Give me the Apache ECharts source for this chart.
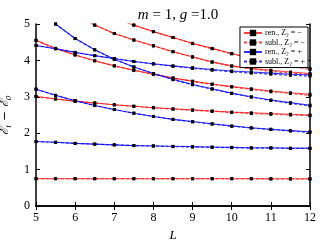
<!DOCTYPE html>
<html><head><meta charset="utf-8">
<script src="https://cdn.jsdelivr.net/npm/echarts@6/dist/echarts.min.js"></script>
<style>html,body{margin:0;padding:0;background:#fff}#c{width:320px;height:240px}</style>
</head><body><div id="c"></div>
<script>
const L = [5,5.5,6,6.5,7,7.5,8,8.5,9,9.5,10,10.5,11,11.5,12];
const xTicks = [5,6,7,8,9,10,11,12];
const yTicks = [0,1,2,3,4,5];
// red (Z2 = -) curves
const red0Ren  = [0.75,0.75,0.75,0.75,0.75,0.75,0.75,0.75,0.75,0.75,0.75,0.75,0.75,0.75,0.75];
const red0Sub  = [0.75,0.75,0.75,0.75,0.75,0.75,0.75,0.75,0.75,0.75,0.75,0.75,0.74,0.74,0.74];
const red2Ren  = [3.01,2.94,2.88,2.83,2.78,2.74,2.70,2.67,2.64,2.61,2.58,2.56,2.54,2.52,2.50];
const red2Sub  = [3.01,2.94,2.88,2.83,2.78,2.74,2.70,2.66,2.63,2.60,2.57,2.54,2.52,2.50,2.48];
const red3Ren  = [4.55,4.33,4.15,3.99,3.85,3.73,3.62,3.52,3.43,3.35,3.28,3.22,3.16,3.11,3.07];
const red3Sub  = [4.55,4.33,4.15,3.99,3.85,3.73,3.62,3.51,3.42,3.34,3.27,3.20,3.14,3.09,3.04];
const red4Ren  = [5.95,5.57,5.25,4.97,4.74,4.56,4.40,4.24,4.10,3.96,3.85,3.78,3.73,3.68,3.64];
const red4Sub  = [5.95,5.57,5.25,4.97,4.74,4.56,4.40,4.24,4.09,3.95,3.84,3.76,3.70,3.65,3.61];
const red5Ren  = [6.20,5.92,5.65,5.40,5.17,4.97,4.79,4.63,4.47,4.33,4.19,4.07,3.96,3.86,3.78];
const red5Sub  = [6.20,5.92,5.65,5.40,5.17,4.97,4.79,4.63,4.46,4.32,4.18,4.05,3.94,3.84,3.75];
// blue (Z2 = +) curves
const blue1Ren = [1.77,1.75,1.72,1.70,1.68,1.66,1.65,1.64,1.63,1.62,1.61,1.60,1.60,1.59,1.59];
const blue1Sub = [1.77,1.75,1.72,1.70,1.68,1.66,1.65,1.63,1.62,1.61,1.60,1.59,1.59,1.58,1.58];
const blue2Ren = [3.21,3.04,2.89,2.76,2.65,2.55,2.46,2.38,2.32,2.26,2.20,2.15,2.11,2.07,2.04];
const blue2Sub = [3.21,3.04,2.89,2.76,2.65,2.55,2.46,2.38,2.31,2.25,2.19,2.14,2.10,2.06,2.02];
const blue3Ren = [4.41,4.32,4.22,4.13,4.05,3.97,3.91,3.85,3.80,3.75,3.71,3.68,3.65,3.62,3.60];
const blue3Sub = [4.41,4.32,4.22,4.13,4.05,3.97,3.90,3.84,3.78,3.73,3.69,3.65,3.62,3.59,3.57];
const blue4Ren = [5.45,5.00,4.60,4.29,4.03,3.82,3.64,3.48,3.34,3.22,3.10,3.00,2.91,2.84,2.77];
const blue4Sub = [5.45,5.00,4.60,4.29,4.03,3.82,3.64,3.47,3.33,3.21,3.09,2.99,2.90,2.82,2.75];

const NAMES = ['ren., Z\u2082 = \u2212','subl., Z\u2082 = \u2212','ren., Z\u2082 = +','subl., Z\u2082 = +'];
const RED = 'rgba(255,0,0,0.75)', BLUE = 'rgba(0,0,255,0.8)';

function mk(vals, name, color, dashed){
  return {
    type:'line', name:name, data:L.map((x,i)=>[x,vals[i]]),
    symbol:'rect', symbolSize:3, showSymbol:true,
    itemStyle:{color:'#000'},
    lineStyle:{color:color, width:1.1, type: dashed?[3,2]:'solid'},
    clip:true, silent:true, animation:false
  };
}
const series = [];
[[red0Ren,red0Sub],[red2Ren,red2Sub],[red3Ren,red3Sub],[red4Ren,red4Sub],[red5Ren,red5Sub]].forEach(p=>{
  series.push(mk(p[0],NAMES[0],RED,false));
  series.push(mk(p[1],NAMES[1],RED,true));
});
[[blue1Ren,blue1Sub],[blue2Ren,blue2Sub],[blue3Ren,blue3Sub],[blue4Ren,blue4Sub]].forEach(p=>{
  series.push(mk(p[0],NAMES[2],BLUE,false));
  series.push(mk(p[1],NAMES[3],BLUE,true));
});
const SERIF = 'Liberation Serif';
const axisCommon = {
  axisLine:{show:true, lineStyle:{color:'#000', width:1.5}},
  axisTick:{show:true, inside:true, length:4, lineStyle:{color:'#000', width:1}},
  splitLine:{show:false}
};
const chart = echarts.init(document.getElementById('c'), null, {renderer:'canvas'});
chart.setOption({
  animation:false,
  backgroundColor:'#fff',
  title:{
    text:'{i|m} = 1, {i|g} =1.0', left:173, textAlign:'center', top:3,
    textStyle:{fontFamily:SERIF, fontSize:15, fontWeight:'normal', color:'#000',
      rich:{i:{fontFamily:SERIF, fontStyle:'italic', fontSize:15, color:'#000'}}}
  },
  legend:{
    data:NAMES, orient:'vertical', right:12, top:27,
    backgroundColor:'#fff', borderColor:'#000', borderWidth:1, borderRadius:0,
    padding:[2,3,2,3], itemGap:1.5, itemWidth:18, itemHeight:8,
    textStyle:{fontFamily:SERIF, fontSize:8, color:'#000', padding:[0,0,0,-2]},
    selectedMode:false, z:10
  },
  grid:{left:36, right:10, top:24, bottom:34, containLabel:false, outerBoundsMode:'none'},
  xAxis:[
    Object.assign({type:'value', min:5, max:12, interval:1, position:'bottom',
      name:'L', nameLocation:'middle', nameGap:17,
      nameTextStyle:{fontFamily:SERIF, fontStyle:'italic', fontSize:13, color:'#000'},
      axisLabel:{fontFamily:SERIF, fontSize:12, color:'#000', margin:6,
        formatter:v=>xTicks.includes(v)?String(v):''}}, axisCommon),
    Object.assign({type:'value', min:5, max:12, interval:1, position:'top', axisLabel:{show:false}}, axisCommon)
  ],
  yAxis:[
    Object.assign({type:'value', min:0, max:5, interval:1, position:'left',
      name:'{e|\u2130}{s|i}{e| \u2212 \u2130}{s|0}', nameLocation:'middle', nameGap:16,
      nameTextStyle:{fontFamily:'DejaVu Serif', fontSize:12, color:'#000',
        rich:{e:{fontFamily:'DejaVu Serif', fontStyle:'italic', fontSize:12, lineHeight:16, color:'#000'},
              s:{fontFamily:'DejaVu Serif', fontStyle:'italic', fontSize:8, lineHeight:16, verticalAlign:'bottom', color:'#000'}}},
      axisLabel:{fontFamily:SERIF, fontSize:12, color:'#000', margin:6,
        formatter:v=>yTicks.includes(v)?String(v):''}}, axisCommon),
    Object.assign({type:'value', min:0, max:5, interval:1, position:'right', axisLabel:{show:false}}, axisCommon)
  ],
  series:series
});
</script></body></html>
